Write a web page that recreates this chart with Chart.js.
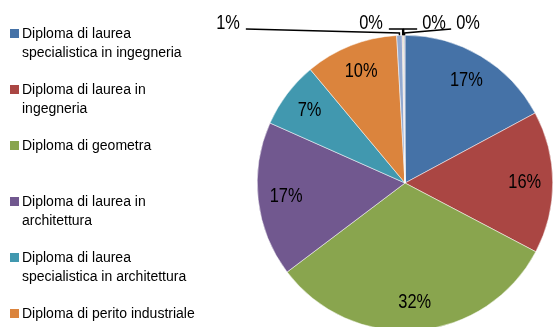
<!DOCTYPE html>
<html>
<head>
<meta charset="utf-8">
<script src="https://cdn.jsdelivr.net/npm/chart.js@4.4.1/dist/chart.umd.min.js"></script>
<style>
  html, body { margin: 0; padding: 0; background: #fff; overflow: hidden; }
  #wrap { position: relative; width: 554px; height: 327px; overflow: hidden; }
  #pie { position: absolute; left: 0; top: 0; }
  #legend { position: absolute; left: 0; top: 0; width: 250px; height: 327px;
            font: 14px "Liberation Sans", Arial, sans-serif; color: #000; }
  .item { position: absolute; left: 22px; width: 185px; line-height: 19px; }
  .item i { position: absolute; left: -12px; top: 5px; width: 9px; height: 9px; }
</style>
</head>
<body>
<div id="wrap">
  <canvas id="pie" width="554" height="340"></canvas>
  <div id="legend"></div>
</div>
<script>
// titoli di studio
const categories = [
  "Diploma di laurea specialistica in ingegneria",
  "Diploma di laurea in ingegneria",
  "Diploma di geometra",
  "Diploma di laurea in architettura",
  "Diploma di laurea specialistica in architettura",
  "Diploma di perito industriale",
  "Diploma di perito edile",
  "Diploma di laurea in altre discipline",
  "Diploma di maturità scientifica",
  "Altro"
];
const shares = [17.2, 15.6, 32.1, 17.0, 7.3, 10.2, 0.6, 0.1, 0.1, 0.1];
const colors = [
  "#4572A7", "#AA4643", "#89A54E", "#71588F", "#4198AF",
  "#DB843D", "#93A9CF", "#D19392", "#B9CD96", "#A99BBD"
];

// etichette esterne per le fette piccole: [dx, dy] del testo e y del gomito, rispetto al centro
const calloutSpots = [[-177, -160, -150], [-34, -160, -154], [29, -160, -154], [63, -160, -150]];

// testo percentuale leggermente stretto
function narrowText(ctx, txt, x, y) {
  ctx.save();
  ctx.translate(x, y);
  ctx.scale(0.82, 1);
  ctx.fillText(txt, 0, 0);
  ctx.restore();
}

const pctLabels = {
  id: "pctLabels",
  afterDatasetsDraw(chart) {
    const ctx = chart.ctx;
    const meta = chart.getDatasetMeta(0);
    const total = shares.reduce((a, b) => a + b, 0);
    ctx.save();
    ctx.font = '20px "Liberation Sans", Arial, sans-serif';
    ctx.fillStyle = "#000";
    ctx.strokeStyle = "#000";
    ctx.lineWidth = 1.5;
    ctx.textAlign = "center";
    ctx.textBaseline = "middle";
    meta.data.forEach((arc, i) => {
      const p = arc.getProps(["x", "y", "startAngle", "endAngle", "outerRadius"], true);
      const txt = Math.round(shares[i] / total * 100) + "%";
      const mid = (p.startAngle + p.endAngle) / 2;
      if (i < 6) {
        const r = p.outerRadius * 0.81;
        narrowText(ctx, txt, p.x + Math.cos(mid) * r, p.y + Math.sin(mid) * r);
        return;
      }
      const spot = calloutSpots[i - 6];
      const lx = p.x + spot[0], ly = p.y + spot[1];
      const ax = p.x + Math.cos(mid) * p.outerRadius;
      const ay = p.y + Math.sin(mid) * p.outerRadius;
      const half = ctx.measureText(txt).width * 0.82 / 2;
      const sx = lx < ax ? lx + half + 6 : lx - half - 5;
      ctx.beginPath();
      ctx.moveTo(sx, ly + 6);
      ctx.lineTo(ax, p.y + spot[2]);
      ctx.lineTo(ax, ay);
      ctx.stroke();
      narrowText(ctx, txt, lx, ly);
    });
    ctx.restore();
  }
};

const chart = new Chart(document.getElementById("pie"), {
  type: "pie",
  data: {
    labels: categories,
    datasets: [{
      data: shares,
      backgroundColor: colors,
      borderColor: "#fff",
      borderWidth: 0.5
    }]
  },
  options: {
    responsive: false,
    animation: false,
    layout: { padding: { left: 257, right: 1, top: 35, bottom: 9 } },
    plugins: {
      legend: { display: false },
      tooltip: { enabled: false }
    }
  },
  plugins: [pctLabels]
});

// legenda a sinistra
const legend = document.getElementById("legend");
categories.forEach((name, i) => {
  const div = document.createElement("div");
  div.className = "item";
  div.style.top = (24 + i * 56) + "px";
  const box = document.createElement("i");
  box.style.background = colors[i];
  div.appendChild(box);
  div.appendChild(document.createTextNode(name));
  legend.appendChild(div);
});
</script>
</body>
</html>
